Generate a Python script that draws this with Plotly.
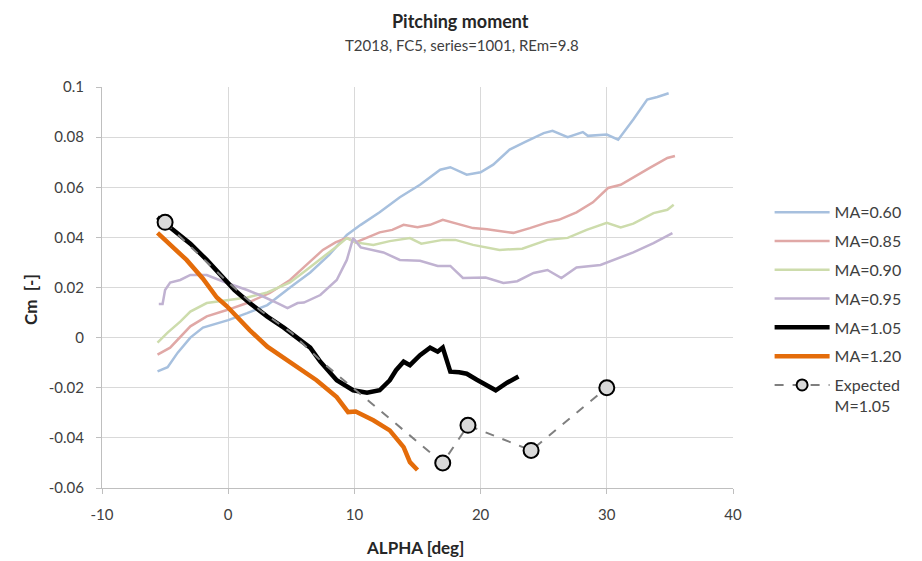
import plotly.graph_objects as go

# ---- data ----
x_060 = [-5.6,-4.8,-4.0,-3.0,-2.0,-1.0,0,1.5,3.1,4.9,6.5,8,9.4,10.5,12,13.6,15.2,16.8,17.6,18.9,20,21,22.3,23.5,25,25.7,26.9,28.1,28.5,30,30.9,32.1,33.2,34,34.9]
y_060 = [-0.0135,-0.0118,-0.006,0.0,0.004,0.0055,0.007,0.0098,0.013,0.020,0.026,0.033,0.041,0.045,0.050,0.056,0.061,0.067,0.068,0.065,0.066,0.069,0.075,0.078,0.0816,0.0825,0.080,0.082,0.0805,0.081,0.079,0.087,0.095,0.096,0.0975]

x_085 = [-5.6,-4.6,-3.0,-1.7,-0.1,1.5,3.3,4.9,6.2,7.5,8.5,9.4,10.1,11,12,13,13.9,15,16,17,17.8,18.6,19.4,20.5,21.5,22.6,23.9,25.3,26.2,27.6,28.9,30.1,31.1,32.1,33.4,34.8,35.4]
y_085 = [-0.0068,-0.004,0.0045,0.0085,0.011,0.0138,0.0178,0.023,0.029,0.035,0.038,0.0398,0.038,0.040,0.042,0.043,0.045,0.044,0.045,0.047,0.046,0.045,0.0437,0.0432,0.0426,0.0418,0.0437,0.046,0.047,0.050,0.054,0.0597,0.061,0.064,0.0677,0.0717,0.0725]

x_090 = [-5.6,-4.8,-3.8,-3.0,-1.7,-0.1,1.5,3.1,4.9,6.2,7.5,8.5,9.4,10.1,11.5,12.8,14.4,15.3,17,18,19.4,20.5,21.5,23.3,25.3,26.9,28.4,30,31.1,32.1,33.7,34.8,35.3]
y_090 = [-0.002,0.002,0.0064,0.0104,0.0138,0.015,0.016,0.018,0.022,0.027,0.032,0.036,0.0397,0.038,0.037,0.0385,0.0397,0.0375,0.039,0.039,0.037,0.036,0.035,0.0355,0.039,0.0398,0.043,0.0458,0.044,0.0455,0.0497,0.051,0.053]

x_095 = [-5.5,-5.2,-5.0,-4.6,-3.8,-3.0,-1.7,-0.1,1.5,2.5,3.9,4.7,5.5,6.0,7.3,8.6,9.4,9.9,10.5,11.5,12.3,13.6,15.2,16.6,17.6,18.6,20.4,21.8,22.9,24.2,25.3,26.4,27.6,29.5,30.5,32.1,33.7,35.2]
y_095 = [0.0134,0.0134,0.019,0.022,0.023,0.025,0.025,0.0218,0.019,0.017,0.0138,0.0118,0.0138,0.014,0.017,0.023,0.031,0.0397,0.036,0.035,0.034,0.031,0.0307,0.0286,0.0286,0.0238,0.024,0.0218,0.0225,0.0258,0.027,0.0238,0.028,0.029,0.031,0.034,0.0377,0.0417]

x_105 = [-5.6,-4.4,-3.0,-1.7,-0.5,0.5,1.7,3.1,4.4,5.5,6.5,7.3,8.6,9.9,11,12,12.8,13.3,13.9,14.4,14.8,15.2,16,16.6,17,17.6,18.3,18.9,19.7,20.5,21.2,22.1,23]
y_105 = [0.048,0.043,0.0375,0.031,0.0245,0.019,0.0138,0.0084,0.004,0.000,-0.004,-0.0096,-0.017,-0.021,-0.022,-0.021,-0.017,-0.013,-0.0096,-0.011,-0.0088,-0.007,-0.004,-0.0056,-0.004,-0.0136,-0.0138,-0.0144,-0.0168,-0.019,-0.021,-0.018,-0.0155]

x_120 = [-5.6,-4.6,-3.3,-2.0,-0.9,-0.1,1.7,3.1,4.9,7,8.6,9.5,10.1,11.5,12.8,13.9,14.4,15]
y_120 = [0.0418,0.037,0.031,0.0235,0.016,0.0125,0.003,-0.0036,-0.0096,-0.017,-0.0237,-0.0297,-0.0295,-0.033,-0.037,-0.0437,-0.0497,-0.0528]

x_exp = [-5, -2.5, 0, 2.5, 5, 7.5, 10, 17, 19, 24, 30]
y_exp = [0.046, 0.034, 0.022, 0.011, 0.002, -0.01, -0.0205, -0.05, -0.035, -0.045, -0.02]
exp_marked = [True, False, False, False, False, False, False, True, True, True, True]

x_ticks = [-10, 0, 10, 20, 30, 40]
x_ticklabels = ["-10", "0", "10", "20", "30", "40"]
y_ticks = [-0.06, -0.04, -0.02, 0, 0.02, 0.04, 0.06, 0.08, 0.1]
y_ticklabels = ["-0.06", "-0.04", "-0.02", "0", "0.02", "0.04", "0.06", "0.08", "0.1"]

FONT = "Lato"

fig = go.Figure()

series = [
    ("MA=0.60", x_060, y_060, "#a7c0de", 2.5),
    ("MA=0.85", x_085, y_085, "#e0a8a6", 2.5),
    ("MA=0.90", x_090, y_090, "#cddcac", 2.5),
    ("MA=0.95", x_095, y_095, "#c0b2d1", 2.5),
    ("MA=1.05", x_105, y_105, "#000000", 4.5),
    ("MA=1.20", x_120, y_120, "#e46c0a", 4.5),
]
for i, (name, xs, ys, col, w) in enumerate(series):
    fig.add_trace(go.Scatter(x=xs, y=ys, mode="lines", name=name,
                             line=dict(color=col, width=w), legendgroup=name))

# expected: dashed line through all points, markers only at marked points
fig.add_trace(go.Scatter(x=x_exp, y=y_exp, mode="lines", showlegend=False,
                         line=dict(color="#7f7f7f", width=2, dash="dash"),
                         legendgroup="exp"))
fig.add_trace(go.Scatter(x=[xv for xv, m in zip(x_exp, exp_marked) if m],
                         y=[yv for yv, m in zip(y_exp, exp_marked) if m],
                         mode="markers", showlegend=False, legendgroup="exp",
                         marker=dict(size=15, color="#d9d9d9",
                                     line=dict(color="#000000", width=2))))
fig.add_trace(go.Scatter(x=[None], y=[None], mode="lines+markers",
                         name="Expected<br>M=1.05", legendgroup="exp",
                         line=dict(color="#7f7f7f", width=2, dash="dash"),
                         marker=dict(size=11, color="#d9d9d9",
                                     line=dict(color="#000000", width=2))))

fig.update_layout(
    width=922, height=561,
    margin=dict(l=102, r=189, t=87, b=73),
    paper_bgcolor="white", plot_bgcolor="white",
    font=dict(family=FONT, size=15, color="#404040"),
    showlegend=True,
    legend=dict(x=1.058, y=0.73, xanchor="left", yanchor="top",
                font=dict(family=FONT, size=16, color="#404040"),
                tracegroupgap=5, itemwidth=55, valign="top",
                bgcolor="rgba(0,0,0,0)"),
    xaxis=dict(range=[-10, 40], tickvals=x_ticks, ticktext=x_ticklabels,
               showgrid=True, gridcolor="#d9d9d9", gridwidth=1, zeroline=False,
               showline=True, linecolor="#bfbfbf", linewidth=1,
               ticks="outside", ticklen=5, tickcolor="#bfbfbf",
               ticklabelstandoff=8,
               tickfont=dict(family=FONT, size=15, color="#404040")),
    yaxis=dict(range=[-0.06, 0.1], tickvals=y_ticks, ticktext=y_ticklabels,
               showgrid=True, gridcolor="#d9d9d9", gridwidth=1, zeroline=False,
               showline=True, linecolor="#bfbfbf", linewidth=1,
               ticks="outside", ticklen=5, tickcolor="#bfbfbf",
               ticklabelstandoff=9,
               tickfont=dict(family=FONT, size=15, color="#404040")),
    annotations=[
        dict(text="<b>Pitching moment</b>", xref="paper", yref="paper",
             x=(460 - 102) / 631, y=1 + (87 - 21) / 401, showarrow=False,
             font=dict(family=FONT, size=18, color="#262626"),
             xanchor="center", yanchor="middle"),
        dict(text="T2018, FC5, series=1001, REm=9.8", xref="paper", yref="paper",
             x=(462 - 102) / 631, y=1 + (87 - 45) / 401, showarrow=False,
             font=dict(family=FONT, size=15, color="#404040"),
             xanchor="center", yanchor="middle"),
        dict(text="<b>ALPHA [deg]</b>", xref="paper", yref="paper",
             x=(415 - 102) / 631, y=-(547 - 488) / 401, showarrow=False,
             font=dict(family=FONT, size=17, color="#262626"),
             xanchor="center", yanchor="middle"),
        dict(text="<b>Cm  [-]</b>", xref="paper", yref="paper",
             x=-(102 - 30) / 631, y=(488 - 300) / 401, showarrow=False,
             textangle=-90,
             font=dict(family=FONT, size=17, color="#262626"),
             xanchor="center", yanchor="middle"),
    ],
)

fig.write_html("out.html")
